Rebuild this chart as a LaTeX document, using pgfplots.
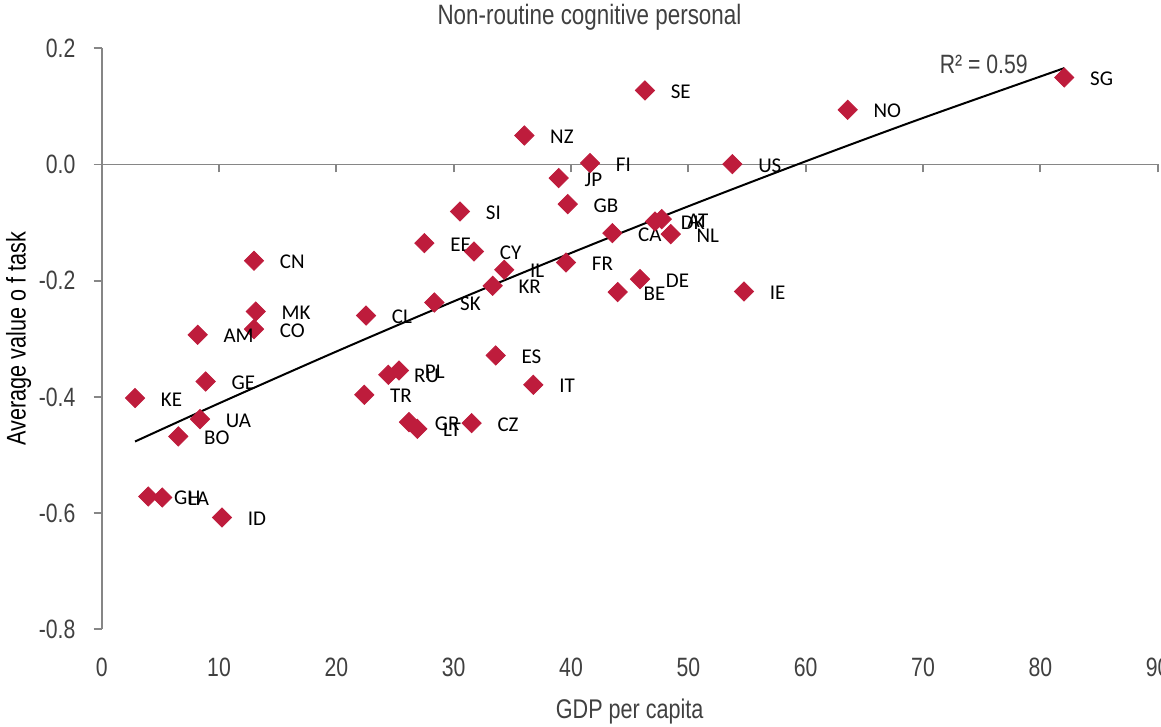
\documentclass[border=0pt]{standalone}
\usepackage{fontspec}
\setmainfont{Liberation Sans}[FakeStretch=0.8]
\newfontfamily\labfont{Carlito}
\usepackage{pgfplots}
\usepackage{pgfplotstable}
\pgfplotsset{compat=1.18}
\definecolor{mk}{RGB}{190,28,60}
\definecolor{ax}{RGB}{134,134,134}
\definecolor{tx}{RGB}{64,64,64}

\pgfplotstableread{
x y lab
82.04 0.1497 SG
63.58 0.0941 NO
46.30 0.1274 SE
36.02 0.0499 NZ
41.62 0.0024 FI
53.75 0.0007 US
38.95 -0.0234 JP
39.72 -0.0682 GB
30.54 -0.0809 SI
43.52 -0.1181 CA
47.16 -0.0981 DK
47.73 -0.0940 AT
48.50 -0.1198 NL
27.50 -0.1353 EE
31.73 -0.1497 CY
34.31 -0.1812 IL
33.32 -0.2088 KR
28.35 -0.2375 SK
39.57 -0.1687 FR
45.88 -0.1973 DE
43.98 -0.2196 BE
54.74 -0.2186 IE
12.98 -0.1657 CN
13.13 -0.2530 MK
12.98 -0.2833 CO
8.18 -0.2931 AM
22.53 -0.2600 CL
8.86 -0.3735 GE
2.84 -0.4020 KE
8.38 -0.4382 UA
6.53 -0.4680 BO
33.58 -0.3287 ES
36.79 -0.3792 IT
24.43 -0.3620 RU
25.34 -0.3546 PL
22.38 -0.3964 TR
26.19 -0.4434 GR
26.90 -0.4550 LT
31.53 -0.4451 CZ
3.97 -0.5714 GH
5.16 -0.5731 LA
10.25 -0.6076 ID
}\countries

\begin{document}
\begin{tikzpicture}
\begin{axis}[
  at={(0,0)}, anchor=south west,
  scale only axis, width=528pt, height=290.5pt,
  xmin=0, xmax=90, ymin=-0.8, ymax=0.2,
  axis x line=middle, axis y line=left,
  axis line style={-, draw=ax, line width=0.9pt},
  xtick={0,10,20,30,40,50,60,70,80,90}, xticklabels={},
  ytick={-0.8,-0.6,-0.4,-0.2,0,0.2},
  yticklabels={-0.8,-0.6,-0.4,-0.2,0.0,0.2},
  tick align=outside, major tick length=4pt,
  tick style={draw=ax, line width=0.9pt},
  yticklabel style={anchor=east, inner sep=0pt, xshift=-9pt, font=\fontsize{13.25}{15}\selectfont, text=tx},
  /pgf/number format/assume math mode=true,
  clip=false,
]
\addplot[only marks, mark=square*, mark size=3.4pt, mark options={rotate=45, fill=mk, draw=mk},
  point meta=explicit symbolic,
  nodes near coords,
  every node near coord/.append style={anchor=base west, xshift=12.75pt, yshift=-4pt, inner sep=0pt, font=\labfont\fontsize{10.5}{12}\selectfont, text=black}]
  table[x=x, y=y, meta=lab] {\countries};
\addplot[black, line width=1pt, smooth] coordinates {
  (2.84,-0.4768) (10,-0.4111) (20,-0.3219) (30,-0.2356) (40,-0.1523)
  (50,-0.0719) (60,0.0055) (70,0.0801) (82.04,0.1659)};
\node[anchor=base west, font=\fontsize{13.25}{15}\selectfont, text=tx] at (axis cs:70.83,0.1561) {R² = 0.59};
\node[anchor=base, font=\fontsize{14}{16}\selectfont, text=tx] at ([yshift=11.75pt]axis description cs:0.4619,1) {Non-routine cognitive personal};
\node[anchor=base, font=\fontsize{13.5}{16}\selectfont, text=tx] at ([yshift=-44.85pt]axis description cs:0.5,0) {GDP per capita};
\node[anchor=base, rotate=90, font=\fontsize{13.5}{16}\selectfont, text=black] at ([xshift=-38pt]axis description cs:0,0.5) {Average value o f task};
\end{axis}
\begin{axis}[
  at={(0,0)}, anchor=south west,
  scale only axis, width=528pt, height=290.5pt,
  xmin=0, xmax=90, ymin=-0.8, ymax=0.2,
  axis x line=bottom, axis y line=none,
  axis line style={draw=none},
  xtick={0,10,20,30,40,50,60,70,80,90},
  xticklabels={0,10,20,30,40,50,60,70,80,90},
  ytick=\empty,
  major tick length=0pt,
  xticklabel style={anchor=base, yshift=-23.8pt, font=\fontsize{13.25}{15}\selectfont, text=tx},
]
\end{axis}
\pgfresetboundingbox
\useasboundingbox (-50.85pt,-48.85pt) rectangle (529.65pt,314.65pt);
\end{tikzpicture}
\end{document}
